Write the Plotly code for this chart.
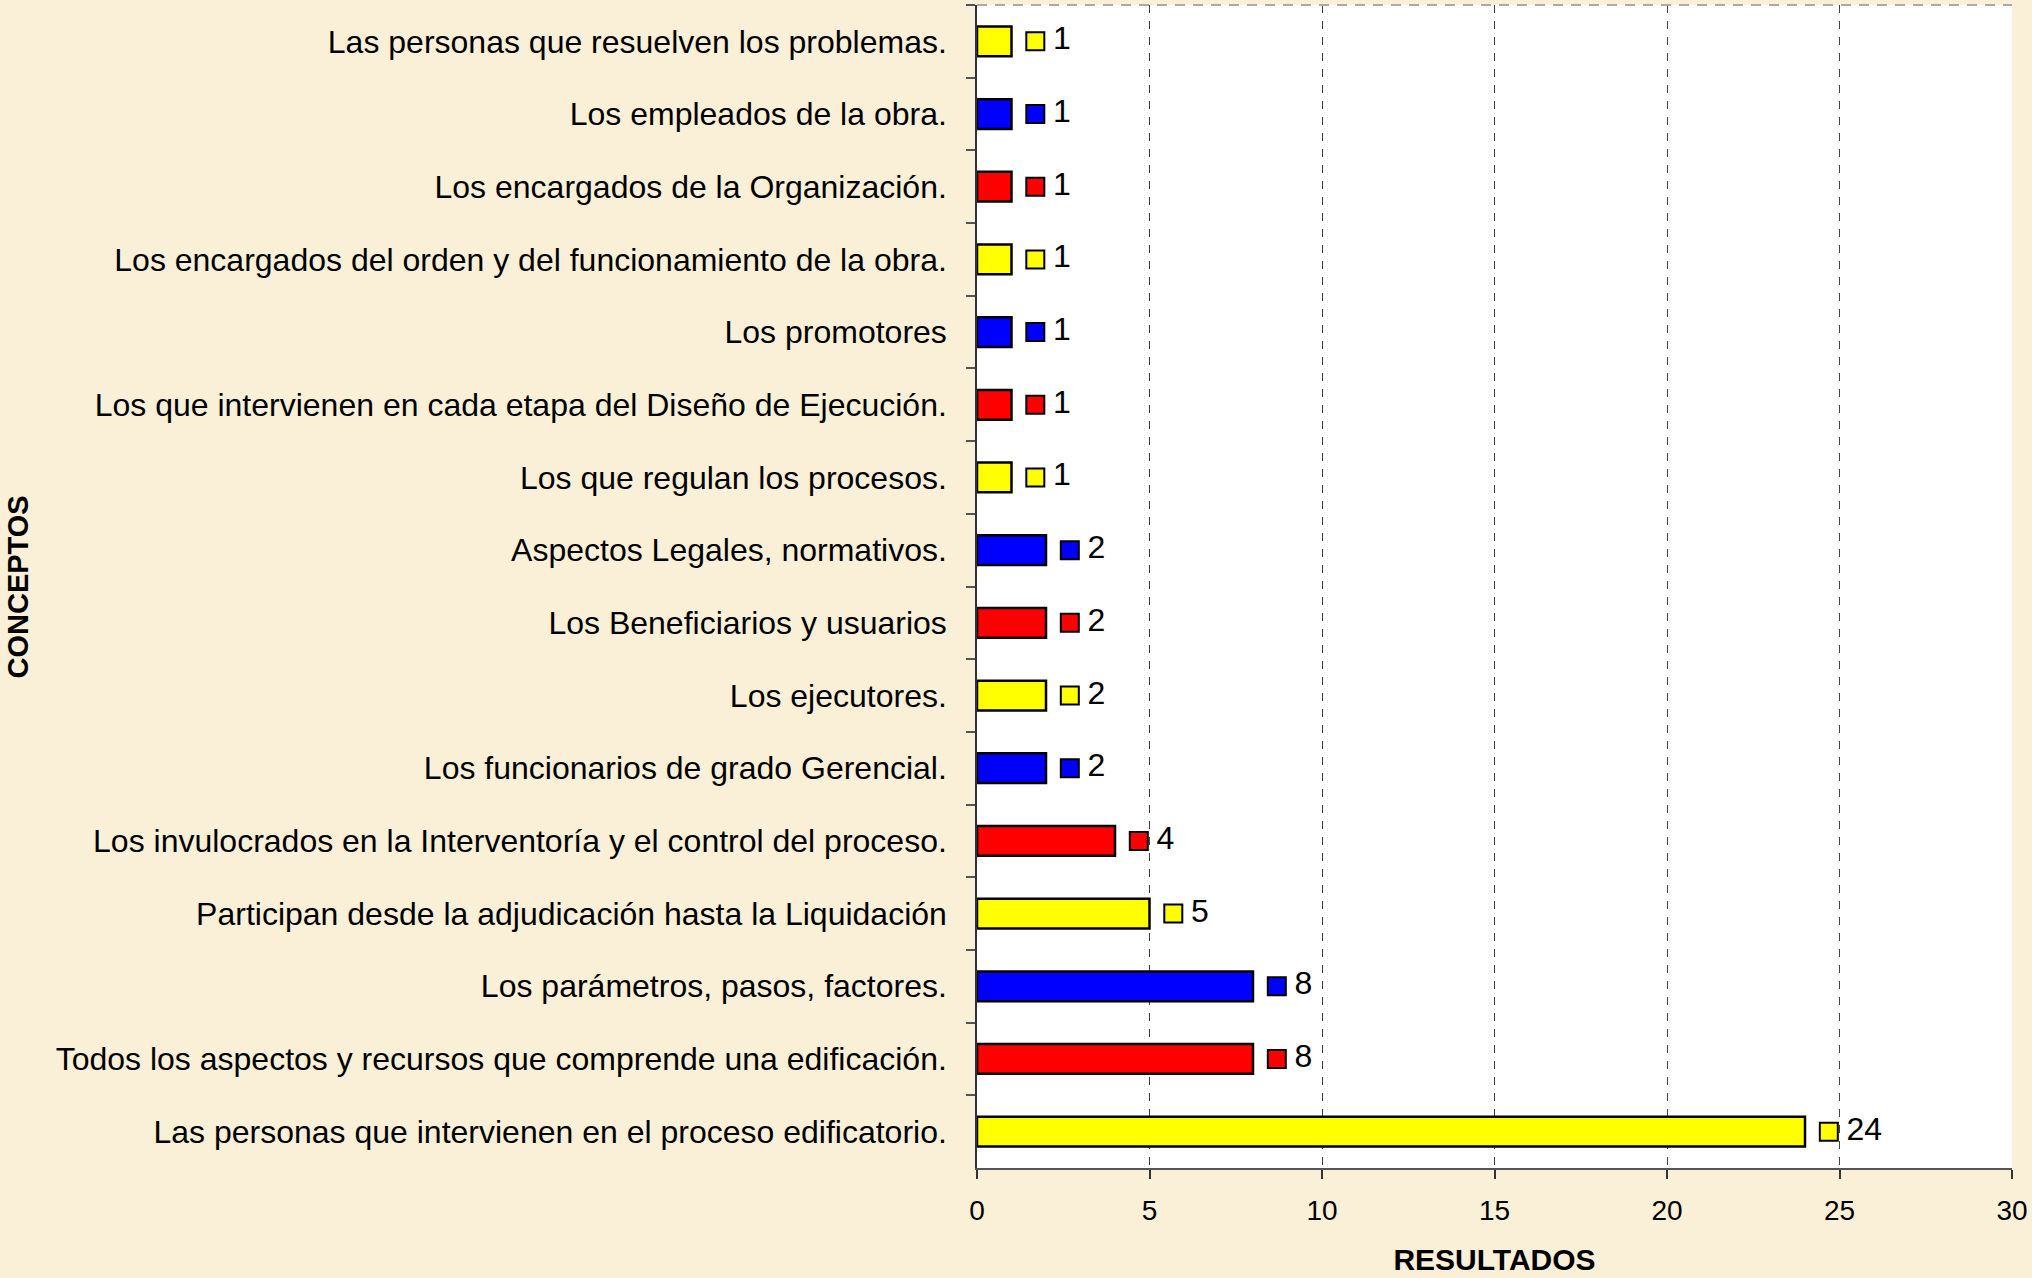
import plotly.graph_objects as go

categories = [
    "Las personas que resuelven los problemas.",
    "Los empleados de la obra.",
    "Los encargados de la Organización.",
    "Los encargados del orden y del funcionamiento de la obra.",
    "Los promotores",
    "Los que intervienen en cada etapa del Diseño de Ejecución.",
    "Los que regulan los procesos.",
    "Aspectos Legales, normativos.",
    "Los Beneficiarios y usuarios",
    "Los ejecutores.",
    "Los funcionarios de grado Gerencial.",
    "Los invulocrados en la Interventoría y el control del proceso.",
    "Participan desde la adjudicación hasta la Liquidación",
    "Los parámetros, pasos, factores.",
    "Todos los aspectos y recursos que comprende una edificación.",
    "Las personas que intervienen en el proceso edificatorio.",
]
values = [1, 1, 1, 1, 1, 1, 1, 2, 2, 2, 2, 4, 5, 8, 8, 24]
palette = ["#FFFF00", "#0000FF", "#FF0000"]
colors = [palette[i % 3] for i in range(len(categories))]
x_ticks = [0, 5, 10, 15, 20, 25, 30]

FONT = "Liberation Sans, Arial, sans-serif"
key_offset = 0.69   # legend-key square just past the bar end
label_offset = 1.2  # value label after the key

fig = go.Figure()
fig.add_trace(go.Bar(
    y=categories, x=values, orientation="h",
    marker=dict(color=colors, line=dict(color="#000000", width=2.5)),
    width=0.41, showlegend=False, hoverinfo="x+y",
))
fig.add_trace(go.Scatter(
    y=categories, x=[v + key_offset for v in values],
    mode="markers",
    marker=dict(symbol="square", size=18, color=colors,
                line=dict(color="#000000", width=2)),
    showlegend=False, hoverinfo="skip", cliponaxis=False,
))
fig.add_trace(go.Scatter(
    y=categories, x=[v + label_offset for v in values],
    mode="text",
    text=[str(v) for v in values], textposition="middle right",
    textfont=dict(family=FONT, size=32, color="#000000"),
    showlegend=False, hoverinfo="skip", cliponaxis=False,
))

n = len(categories)
fig.update_layout(
    width=2032, height=1278,
    margin=dict(l=977, r=20, t=5, b=110),
    paper_bgcolor="#FAF0D8",
    plot_bgcolor="#FFFFFF",
    font=dict(family=FONT, color="#000000"),
    xaxis=dict(
        range=[0, 30], tickvals=x_ticks, ticktext=[str(t) for t in x_ticks],
        showgrid=True, gridcolor="#404040", gridwidth=1, griddash="8px,8px",
        showline=True, linecolor="#555555", linewidth=1.5,
        ticks="outside", ticklen=9, tickcolor="#333333", tickwidth=1.5,
        tickfont=dict(family=FONT, size=28), ticklabelstandoff=8,
        title=dict(text="<b>RESULTADOS</b>", font=dict(family=FONT, size=30), standoff=24),
        zeroline=False, fixedrange=True,
    ),
    yaxis=dict(
        type="category", range=[n - 0.5, -0.5],
        showgrid=False, showline=True, linecolor="#333333", linewidth=1.5,
        ticks="outside", ticklen=9, tickcolor="#555555", tickwidth=1.5,
        tickson="boundaries",
        tickfont=dict(family=FONT, size=32),
        ticklabelstandoff=22,
        fixedrange=True,
    ),
    annotations=[dict(text="<b>CONCEPTOS</b>", xref="paper", yref="paper",
                      x=-0.9266, y=0.5, xanchor="center", yanchor="middle",
                      textangle=-90, showarrow=False,
                      font=dict(family=FONT, size=29, color="#000000"))],
    shapes=[dict(type="line", xref="paper", yref="paper", x0=0, x1=1, y0=1, y1=1,
                 line=dict(color="#AAAAAA", width=2, dash="10px,8px"))],
)

fig.write_html("out.html", config={"displayModeBar": False},
               post_script="document.body.style.margin='0';")
